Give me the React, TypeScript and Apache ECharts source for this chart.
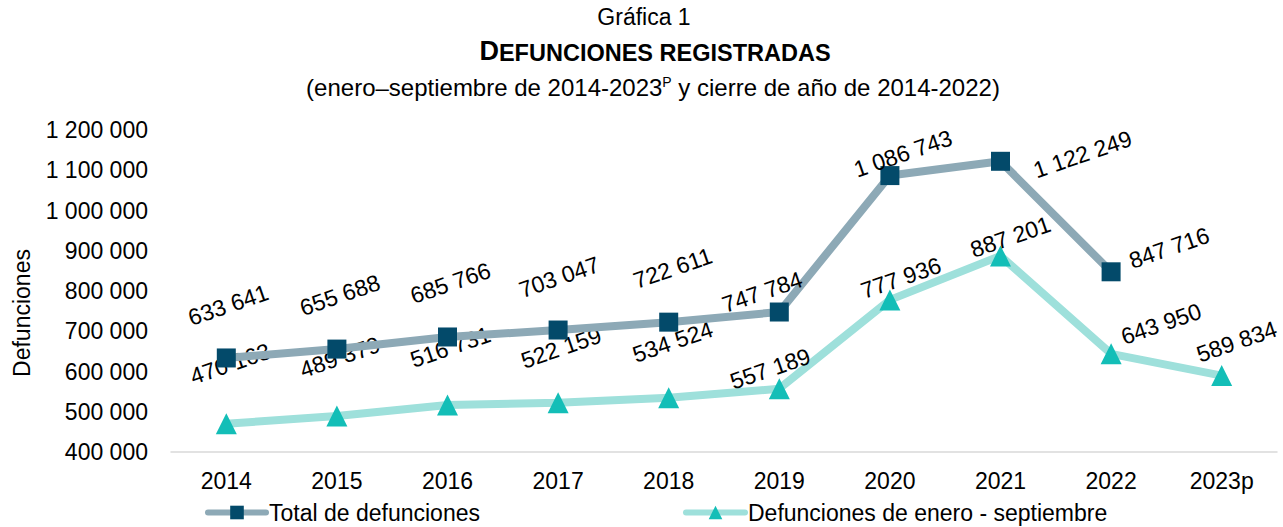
import React, { useEffect, useRef } from "react";
import * as echarts from "echarts";

const years = ["2014", "2015", "2016", "2017", "2018", "2019", "2020", "2021", "2022", "2023p"];
const totalDeaths = [633641, 655688, 685766, 703047, 722611, 747784, 1086743, 1122249, 847716, null];
const janSepDeaths = [470163, 489379, 516731, 522159, 534524, 557189, 777936, 887201, 643950, 589834];
// visual (screen) offsets of label centres from their points
const totalLabelOffsets = [[2, -53], [3, -54], [3, -54], [1, -53], [4, -54], [-17, -20], [13, -22], [82, -7], [58, -24], [0, 0]];
const janSepLabelOffsets = [[4, -60], [3, -59], [3, -58], [3, -55], [4, -56], [-9, -20], [11, -22], [10, -19], [50, -30], [15, -34]];

const FONT = "'Liberation Sans', Arial, sans-serif";
const ROT = 19;
const fmt = (v: number) => String(v).replace(/\B(?=(\d{3})+(?!\d))/g, " ");
const toLocal = (o: number[]) => {
  const t = (ROT * Math.PI) / 180;
  const X = o[0], Y = o[1];
  return [X * Math.cos(t) - Y * Math.sin(t), X * Math.sin(t) + Y * Math.cos(t)];
};

export default function App() {
  const ref = useRef<HTMLDivElement>(null);
  useEffect(() => {
    if (!ref.current) return;
    const chart = echarts.init(ref.current, null, { renderer: "svg" });
    const labelBase = {
      show: true,
      position: "inside",
      rotate: ROT,
      fontSize: 23,
      fontFamily: FONT,
      color: "#000",
      align: "center",
      verticalAlign: "middle",
      formatter: (p: any) => fmt(p.value),
    };
    const legendText = { fontSize: 23, fontFamily: FONT, color: "#000", padding: [0, 0, 0, -2] };
    chart.setOption({
      animation: false,
      textStyle: { fontFamily: FONT },
      grid: { left: 171, right: 6, top: 130, bottom: 75, containLabel: false },
      graphic: [
        {
          type: "text",
          x: 644, y: 17,
          style: { text: "Gráfica 1", fontSize: 23, fontFamily: FONT, fill: "#000", align: "center", verticalAlign: "middle" },
        },
        {
          type: "text",
          x: 655, y: 51,
          style: {
            text: "{b|D}{s|EFUNCIONES REGISTRADAS}",
            align: "center", verticalAlign: "middle",
            rich: {
              b: { fontSize: 27, fontWeight: "bold", fontFamily: FONT, fill: "#000", verticalAlign: "bottom" },
              s: { fontSize: 23.5, fontWeight: "bold", fontFamily: FONT, fill: "#000", verticalAlign: "bottom" },
            },
          },
        },
        {
          type: "text",
          x: 653, y: 87,
          style: {
            text: "{n|(enero–septiembre de 2014-2023}{p|P}{n| y cierre de año de 2014-2022)}",
            align: "center", verticalAlign: "middle",
            rich: {
              n: { fontSize: 24, fontFamily: FONT, fill: "#000" },
              p: { fontSize: 14, fontFamily: FONT, fill: "#000", padding: [0, 0, 10, 0] },
            },
          },
        },
        {
          type: "text",
          x: 22, y: 313,
          rotation: Math.PI / 2,
          style: { text: "Defunciones", fontSize: 23, fontFamily: FONT, fill: "#000", align: "center", verticalAlign: "middle" },
        },
      ],
      legend: [
        {
          data: ["Total de defunciones"],
          left: 200, top: 496,
          itemWidth: 58, itemHeight: 17, itemGap: 0,
          textStyle: legendText,
          lineStyle: { width: 6, cap: "round" },
        },
        {
          data: ["Defunciones de enero - septiembre"],
          left: 678, top: 496,
          itemWidth: 59, itemHeight: 17, itemGap: 0,
          textStyle: legendText,
          lineStyle: { width: 6, cap: "round" },
        },
      ],
      xAxis: {
        type: "category",
        data: years,
        boundaryGap: true,
        axisLine: { lineStyle: { color: "#d9d9d9", width: 1.5 } },
        axisTick: { show: false },
        axisLabel: { fontSize: 23, fontFamily: FONT, color: "#000", margin: 17 },
      },
      yAxis: {
        type: "value",
        min: 400000,
        max: 1200000,
        interval: 100000,
        splitLine: { show: false },
        axisLine: { show: false },
        axisTick: { show: false },
        axisLabel: { fontSize: 23, fontFamily: FONT, color: "#000", margin: 23, formatter: fmt },
      },
      series: [
        {
          name: "Total de defunciones",
          type: "line",
          data: totalDeaths.map((v, i) => ({ value: v, label: { offset: toLocal(totalLabelOffsets[i]) } })),
          symbol: "rect",
          symbolSize: 19,
          lineStyle: { color: "#8da9b6", width: 8 },
          itemStyle: { color: "#034a6a" },
          label: labelBase,
          z: 3,
        },
        {
          name: "Defunciones de enero - septiembre",
          type: "line",
          data: janSepDeaths.map((v, i) => ({ value: v, label: { offset: toLocal(janSepLabelOffsets[i]) } })),
          symbol: "triangle",
          symbolSize: 21,
          lineStyle: { color: "#9ee0db", width: 8 },
          itemStyle: { color: "#13beb7" },
          label: labelBase,
          z: 2,
        },
      ],
    });
    return () => chart.dispose();
  }, []);
  return <div ref={ref} style={{ width: 1283, height: 527, position: "absolute", left: 0, top: 0 }} />;
}
